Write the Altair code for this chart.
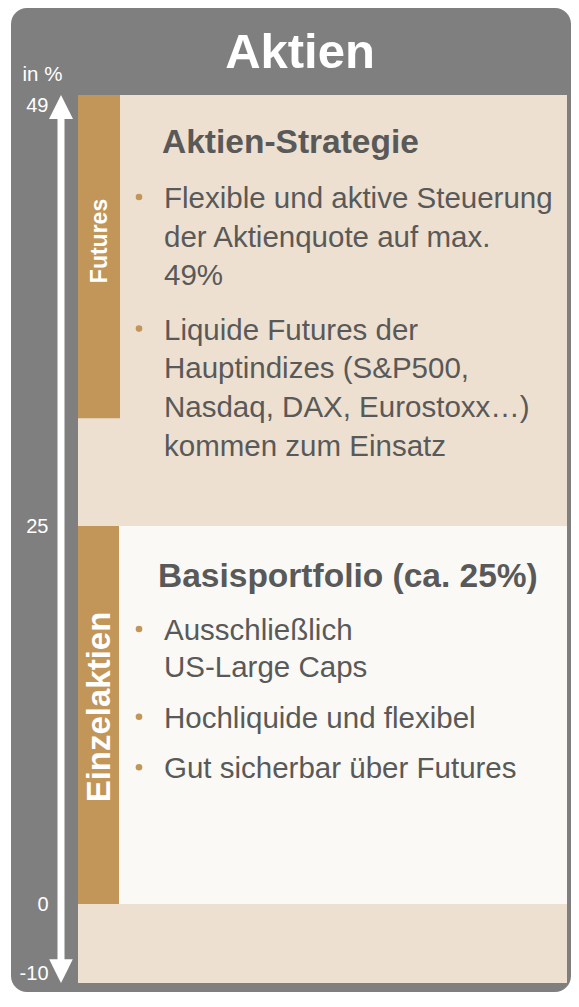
import altair as alt
import pandas as pd

# ---------------- data ----------------
chart_title = "Aktien"
unit_title = "in %"
tick_values = [49, 25, 0, -10]          # labelled levels of the arrow (in %)
scale_levels = [-10, 0, 25, 49]         # breakpoints of the (non-uniform) diagram scale
total_span = [49, -10]                  # whole Aktien range
futures_span = [49, 31]                 # Futures block
basis_span = [25, 0]                    # Einzelaktien / Basisportfolio block

bar_labels = ["Futures", "Einzelaktien"]
headings = ["Aktien-Strategie", "Basisportfolio (ca. 25%)"]
strategy_bullets = [
    ["Flexible und aktive Steuerung", "der Aktienquote auf max.", "49%"],
    ["Liquide Futures der", "Hauptindizes (S&P500,", "Nasdaq, DAX, Eurostoxx…)", "kommen zum Einsatz"],
]
basis_bullets = [
    ["Ausschließlich", "US-Large Caps"],
    ["Hochliquide und flexibel"],
    ["Gut sicherbar über Futures"],
]

# ---------------- style / layout ----------------
GREY = "#7f7f7f"
BEIGE = "#ede0d0"
LIGHT = "#faf9f5"
TAN = "#c29658"
TEXT = "#595959"
FONT = "Liberation Sans"

W, H = 560, 984
level_px = [975, 896, 518, 87]          # pixel rows for scale_levels
yscale = alt.Scale(domain=scale_levels, range=level_px, nice=False, zero=False)

PANEL_L, PANEL_R, BAR_R = 67, 556, 108
ARROW_X = 50
DOT_X = 128


def span_df(span):
    return pd.DataFrame({"top": [span[0]], "bottom": [span[1]]})


def rect_layer(span, x0, x1, color, axis=None):
    return alt.Chart(span_df(span)).mark_rect(color=color).encode(
        x=alt.value(x0), x2=alt.value(x1),
        y=alt.Y("top:Q", scale=yscale, axis=axis),
        y2="bottom:Q",
    )


y_axis = alt.Axis(
    values=tick_values, labelFlush=True, domain=False, ticks=False, tickSize=0, grid=False,
    labelColor="white", labelFontSize=20, labelFont=FONT, labelPadding=0, labelAlign="right",
    labelExpr="'' + datum.value",
    offset=-37,
    title=unit_title, titleAngle=0, titleAlign="left", titleBaseline="alphabetic",
    titleX=-26, titleY=72, titleColor="white", titleFontSize=20.5, titleFont=FONT,
    titleFontWeight="normal",
)

bg = rect_layer(total_span, PANEL_L, PANEL_R, BEIGE, axis=y_axis)
basis = rect_layer(basis_span, BAR_R, PANEL_R, LIGHT)
fut_bar = rect_layer(futures_span, PANEL_L, BAR_R + 1, TAN)
ein_bar = rect_layer(basis_span, PANEL_L, BAR_R, TAN)

shaft = alt.Chart(span_df(total_span)).mark_rule(
    color="white", strokeWidth=7, yOffset=22, y2Offset=-20
).encode(
    x=alt.value(ARROW_X),
    y=alt.Y("top:Q", scale=yscale, axis=None),
    y2="bottom:Q",
)

head_up = alt.Chart(pd.DataFrame({"v": [total_span[0]]})).mark_point(
    shape="M0,0L1,2L-1,2Z", filled=True, color="white", opacity=1, size=576, strokeWidth=0
).encode(x=alt.value(ARROW_X), y=alt.Y("v:Q", scale=yscale, axis=None))

head_down = alt.Chart(pd.DataFrame({"v": [total_span[1]]})).mark_point(
    shape="M0,0L1,-2L-1,-2Z", filled=True, color="white", opacity=1, size=560, strokeWidth=0
).encode(x=alt.value(ARROW_X), y=alt.Y("v:Q", scale=yscale, axis=None))

# title
title_layer = alt.Chart(pd.DataFrame({"t": [chart_title]})).mark_text(
    font=FONT, fontSize=49, fontWeight="bold", color="white", align="center", baseline="alphabetic"
).encode(x=alt.value(289), y=alt.value(60), text="t:N")

# headings
head_df = pd.DataFrame({"text": headings, "px": [151, 147], "py": [145, 579]})
head_layer = alt.Chart(head_df).mark_text(
    font=FONT, fontSize=33.5, fontWeight="bold", color=TEXT, align="left", baseline="alphabetic"
).encode(
    x=alt.X("px:Q", scale=None, axis=None),
    y=alt.Y("py:Q", scale=None, axis=None),
    text="text:N",
)


def bullet_rows(bullets, first, lh, gap, x_text):
    rows, dots = [], []
    y = first
    for lines in bullets:
        dots.append({"px": DOT_X, "py": y - 11})
        for line in lines:
            rows.append({"text": line, "px": x_text, "py": y})
            y += lh
        y += gap
    return rows, dots


r1, d1 = bullet_rows(strategy_bullets, 200, 38.7, 15.5, 153)
r2, d2 = bullet_rows(basis_bullets, 632, 37.2, 13.3, 153)
line_df = pd.DataFrame(r1 + r2)
dot_df = pd.DataFrame(d1 + d2)

lines_layer = alt.Chart(line_df).mark_text(
    font=FONT, fontSize=29.5, color=TEXT, align="left", baseline="alphabetic"
).encode(
    x=alt.X("px:Q", scale=None, axis=None),
    y=alt.Y("py:Q", scale=None, axis=None),
    text="text:N",
)

dots_layer = alt.Chart(dot_df).mark_circle(color=TAN, size=44, opacity=1).encode(
    x=alt.X("px:Q", scale=None, axis=None),
    y=alt.Y("py:Q", scale=None, axis=None),
)

fut_text = alt.Chart(pd.DataFrame({"text": [bar_labels[0]]})).mark_text(
    font=FONT, fontSize=23, fontWeight="bold", color="white",
    angle=270, align="center", baseline="middle"
).encode(x=alt.value(89), y=alt.value(233), text="text:N")

ein_text = alt.Chart(pd.DataFrame({"text": [bar_labels[1]]})).mark_text(
    font=FONT, fontSize=33, fontWeight="bold", color="white",
    angle=270, align="center", baseline="middle"
).encode(x=alt.value(88.5), y=alt.value(699), text="text:N")

chart = alt.layer(
    bg, basis, fut_bar, ein_bar, shaft, head_up, head_down,
    title_layer, head_layer, lines_layer, dots_layer, fut_text, ein_text,
).resolve_scale(y="independent", x="independent").properties(
    width=W, height=H,
    autosize=alt.AutoSizeParams(type="none"),
    padding={"left": 3, "top": 0, "right": 0, "bottom": 0},
    background="white",
).configure_view(
    fill=GREY, strokeWidth=0, cornerRadius=16
)

chart.save("out.html", embed_options={"renderer": "svg", "actions": False})
